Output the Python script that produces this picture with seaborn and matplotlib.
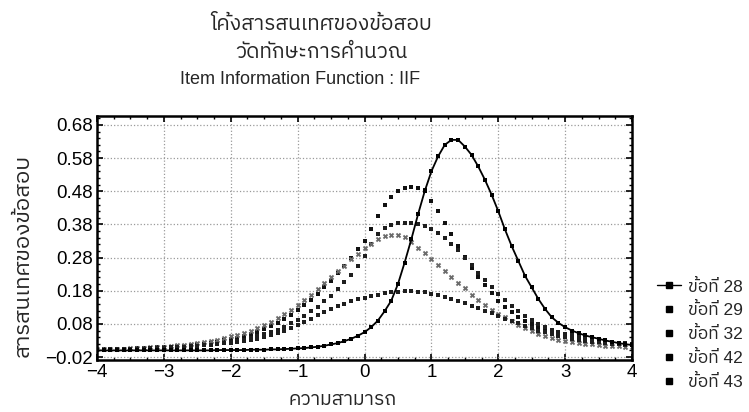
#!/usr/bin/env python3
"""Item Information Function (IIF) chart - recreated with seaborn."""

import numpy as np
import pandas as pd
import matplotlib
matplotlib.use("Agg")
import matplotlib.pyplot as plt
import seaborn as sns
from matplotlib import font_manager
from matplotlib.ft2font import FT2Font
from matplotlib.lines import Line2D
from matplotlib.ticker import MultipleLocator

# --- data (ability step 0.1) ---
theta = np.linspace(-4, 4, 81)

item_28 = [0, 0, 0, 0, 0, 0, 0, 0, 0, 0,
           0, 0, 0, 0, 0, 0, 0, 0, 0.001, 0.001,
           0.001, 0.001, 0.001, 0.002, 0.002, 0.002, 0.003, 0.003, 0.004, 0.005,
           0.006, 0.007, 0.009, 0.011, 0.014, 0.018, 0.022, 0.028, 0.035, 0.044,
           0.055, 0.07, 0.09, 0.118, 0.15, 0.2, 0.265, 0.335, 0.41, 0.48,
           0.54, 0.585, 0.62, 0.635, 0.635, 0.615, 0.59, 0.555, 0.515, 0.47,
           0.42, 0.365, 0.315, 0.27, 0.225, 0.19, 0.155, 0.125, 0.1, 0.083,
           0.07, 0.06, 0.052, 0.045, 0.04, 0.035, 0.03, 0.026, 0.022, 0.019,
           0.016]

item_29 = [0.003, 0.003, 0.004, 0.004, 0.005, 0.005, 0.006, 0.007, 0.008, 0.009,
           0.01, 0.011, 0.012, 0.014, 0.016, 0.018, 0.02, 0.023, 0.026, 0.03,
           0.034, 0.038, 0.043, 0.049, 0.056, 0.064, 0.073, 0.083, 0.095, 0.108,
           0.122, 0.137, 0.153, 0.17, 0.19, 0.21, 0.232, 0.256, 0.28, 0.305,
           0.33, 0.365, 0.405, 0.44, 0.463, 0.482, 0.49, 0.492, 0.49, 0.484,
           0.45, 0.42, 0.385, 0.35, 0.315, 0.282, 0.25, 0.222, 0.196, 0.172,
           0.15, 0.132, 0.116, 0.102, 0.09, 0.079, 0.07, 0.062, 0.055, 0.05,
           0.045, 0.041, 0.037, 0.034, 0.031, 0.028, 0.026, 0.024, 0.022, 0.02,
           0.018]

item_32 = [0.002, 0.002, 0.003, 0.003, 0.003, 0.004, 0.004, 0.005, 0.005, 0.006,
           0.007, 0.008, 0.009, 0.01, 0.011, 0.013, 0.015, 0.017, 0.019, 0.022,
           0.025, 0.028, 0.032, 0.037, 0.042, 0.048, 0.055, 0.063, 0.072, 0.082,
           0.093, 0.105, 0.118, 0.132, 0.148, 0.165, 0.185, 0.205, 0.228, 0.255,
           0.285, 0.32, 0.35, 0.368, 0.378, 0.383, 0.385, 0.385, 0.382, 0.375,
           0.366, 0.354, 0.34, 0.322, 0.302, 0.28, 0.257, 0.234, 0.212, 0.19,
           0.17, 0.151, 0.134, 0.118, 0.104, 0.092, 0.081, 0.071, 0.063, 0.056,
           0.05, 0.045, 0.04, 0.036, 0.033, 0.03, 0.027, 0.025, 0.023, 0.021,
           0.019]

item_42 = [0.003, 0.004, 0.004, 0.005, 0.005, 0.006, 0.007, 0.008, 0.009, 0.01,
           0.011, 0.013, 0.015, 0.017, 0.019, 0.022, 0.025, 0.028, 0.032, 0.037,
           0.042, 0.047, 0.053, 0.06, 0.068, 0.077, 0.087, 0.098, 0.11, 0.123,
           0.137, 0.152, 0.168, 0.185, 0.202, 0.22, 0.238, 0.256, 0.275, 0.292,
           0.308, 0.322, 0.335, 0.344, 0.349, 0.348, 0.341, 0.328, 0.31, 0.293,
           0.277, 0.259, 0.24, 0.222, 0.204, 0.187, 0.168, 0.152, 0.136, 0.122,
           0.11, 0.1, 0.09, 0.078, 0.068, 0.058, 0.05, 0.043, 0.037, 0.032,
           0.028, 0.025, 0.022, 0.02, 0.018, 0.016, 0.014, 0.013, 0.012, 0.011,
           0.01]

item_43 = [0.002, 0.002, 0.003, 0.003, 0.004, 0.004, 0.005, 0.005, 0.006, 0.007,
           0.008, 0.009, 0.01, 0.011, 0.012, 0.013, 0.015, 0.017, 0.019, 0.021,
           0.023, 0.025, 0.027, 0.03, 0.035, 0.04, 0.046, 0.052, 0.06, 0.068,
           0.077, 0.086, 0.096, 0.106, 0.116, 0.126, 0.134, 0.141, 0.148, 0.154,
           0.159, 0.164, 0.168, 0.172, 0.175, 0.177, 0.178, 0.178, 0.177, 0.175,
           0.17, 0.166, 0.161, 0.155, 0.149, 0.142, 0.135, 0.127, 0.12, 0.112,
           0.104, 0.096, 0.089, 0.082, 0.074, 0.067, 0.06, 0.054, 0.048, 0.043,
           0.039, 0.035, 0.032, 0.029, 0.026, 0.024, 0.022, 0.02, 0.018, 0.017,
           0.015]

item_labels = ["ข้อที่ 28", "ข้อที่ 29", "ข้อที่ 32", "ข้อที่ 42", "ข้อที่ 43"]
y_ticks = [-0.02, 0.08, 0.18, 0.28, 0.38, 0.48, 0.58, 0.68]
y_tick_labels = ["\u22120.02", "0.08", "0.18", "0.28", "0.38", "0.48", "0.58", "0.68"]
x_ticks = [-4, -3, -2, -1, 0, 1, 2, 3, 4]

title_lines = ["โค้งสารสนเทศของข้อสอบ", "วัดทักษะการคำนวณ", "Item Information Function : IIF"]
x_label = "ความสามารถ"
y_label = "สารสนเทศของข้อสอบ"

df = pd.DataFrame({"theta": theta, "28": item_28, "29": item_29,
                   "32": item_32, "42": item_42, "43": item_43})


# --- find a font that can draw Thai ---
def find_thai_font():
    found = []
    for f in font_manager.fontManager.ttflist:
        try:
            if FT2Font(f.fname).get_char_index(ord("ก")):
                found.append(f.name)
        except Exception:
            continue
    for name in found:
        if "Sans" in name:
            return name
    return found[0] if found else "DejaVu Sans"


sns.set_theme(style="ticks")
thai_font = find_thai_font()
plt.rcParams['font.family'] = ['Liberation Sans', thai_font, 'DejaVu Sans']
plt.rcParams['axes.unicode_minus'] = True

fig = plt.figure(figsize=(7.49, 4.12), dpi=100)
ax = fig.add_axes([0.1295, 0.1262, 0.7143, 0.5922])

# item 28: line with markers
sns.lineplot(data=df, x="theta", y="28", ax=ax, color="black", lw=1.3,
             marker="s", markersize=3.2, markeredgewidth=0)
# the others: points only
sns.scatterplot(data=df, x="theta", y="29", ax=ax, color="#111111", marker="s", s=11, linewidth=0)
sns.scatterplot(data=df, x="theta", y="32", ax=ax, color="#1e1e1e", marker="s", s=10, linewidth=0)
sns.scatterplot(data=df, x="theta", y="42", ax=ax, color="#6a6a6a", marker="X", s=15, linewidth=0)
sns.scatterplot(data=df, x="theta", y="43", ax=ax, color="#1e1e1e", marker="s", s=10, linewidth=0)

ax.set_xlim(-4, 4)
ax.set_ylim(-0.029, 0.707)
ax.set_xticks(x_ticks)
ax.set_xticklabels([f"{t}".replace("-", "\u2212") for t in x_ticks])
ax.set_yticks(y_ticks)
ax.set_yticklabels(y_tick_labels)
ax.xaxis.set_minor_locator(MultipleLocator(0.25))
ax.yaxis.set_minor_locator(MultipleLocator(0.02))
ax.tick_params(which="both", direction="in", top=True, right=True,
               labelsize=13.5, colors="black", pad=3)
ax.tick_params(which="major", length=4, width=1.2)
ax.tick_params(which="minor", length=2.5, width=1)
ax.grid(True, which="major", linestyle=":", color="#9a9a9a", linewidth=0.9)
for sp in ax.spines.values():
    sp.set_linewidth(1.8)
    sp.set_color("black")

ax.set_xlabel("")
ax.set_ylabel("")
fig.text(0.457, 0.028, x_label, ha="center", va="center", fontsize=14)
fig.text(0.031, 0.38, y_label, ha="center", va="center", rotation=90, fontsize=16)

# titles
fig.text(0.4286, 0.941, title_lines[0], ha="center", va="center", fontsize=15)
fig.text(0.4286, 0.873, title_lines[1], ha="center", va="center", fontsize=15)
fig.text(0.40, 0.808, title_lines[2], ha="center", va="center", fontsize=13)

# legend
handles = [Line2D([], [], color="black", lw=1.0, marker="s", markersize=4)]
handles += [Line2D([], [], color="black", lw=0, marker="s", markersize=4) for _ in range(4)]
ax.legend(handles, item_labels, loc="upper left", bbox_to_anchor=(0.865, 0.345),
          bbox_transform=fig.transFigure, frameon=False, fontsize=12.5,
          handlelength=1.4, handletextpad=0.4, labelspacing=0.45, borderpad=0)

fig.savefig("out.png", dpi=100)
